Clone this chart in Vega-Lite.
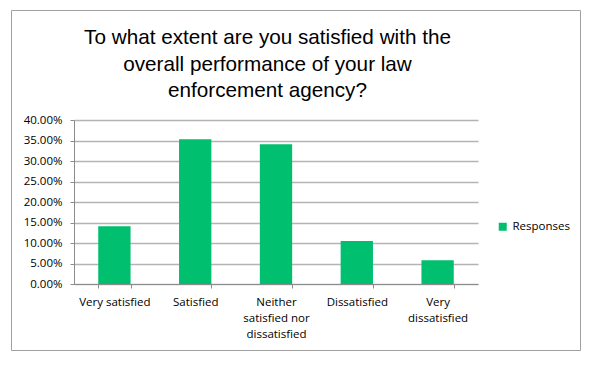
{
  "$schema": "https://vega.github.io/schema/vega-lite/v6.json",
  "width": 569,
  "height": 340,
  "autosize": {"type": "none"},
  "padding": {"left": 11, "top": 10, "right": 15, "bottom": 16},
  "background": "white",
  "title": {
    "text": ["To what extent are you satisfied with the", "overall performance of your law", "enforcement agency?"],
    "font": "Liberation Sans",
    "fontSize": 20.7,
    "fontWeight": "normal",
    "color": "#000000",
    "lineHeight": 26.5,
    "anchor": "middle",
    "frame": "group",
    "offset": -92,
    "dx": -28
  },
  "data": {
    "values": [
      {"rating": "Very satisfied", "share": 0.141},
      {"rating": "Satisfied", "share": 0.353},
      {"rating": "Neither satisfied nor dissatisfied", "share": 0.341},
      {"rating": "Dissatisfied", "share": 0.105},
      {"rating": "Very dissatisfied", "share": 0.058}
    ]
  },
  "mark": {"type": "bar"},
  "encoding": {
    "x": {
      "field": "rating",
      "type": "nominal",
      "sort": null,
      "scale": {"range": [63, 467], "paddingInner": 0.6, "paddingOuter": 0.3},
      "axis": {
        "title": null,
        "offset": -66,
        "labelAngle": 0,
        "domainColor": "#8C8C8C",
        "tickColor": "#8C8C8C",
        "tickSize": 4,
        "tickBand": "extent",
        "labelPadding": 8,
        "labelFont": "Open Sans",
        "labelFontSize": 11.5,
        "labelColor": "#000000",
        "labelLineHeight": 16,
        "labelExpr": "datum.label == 'Neither satisfied nor dissatisfied' ? ['Neither', 'satisfied nor', 'dissatisfied'] : datum.label == 'Very dissatisfied' ? ['Very', 'dissatisfied'] : datum.label"
      }
    },
    "y": {
      "field": "share",
      "type": "quantitative",
      "scale": {"domain": [0, 0.4], "range": [274, 110]},
      "axis": {
        "title": null,
        "offset": -63,
        "values": [0, 0.05, 0.1, 0.15, 0.2, 0.25, 0.3, 0.35, 0.4],
        "format": ".2%",
        "grid": true,
        "gridColor": "#B4B4B4",
        "gridWidth": 1.3,
        "domainColor": "#8C8C8C",
        "tickColor": "#8C8C8C",
        "tickSize": 4,
        "labelPadding": 8,
        "labelFont": "Open Sans",
        "labelFontSize": 11.5,
        "labelColor": "#000000"
      }
    },
    "color": {
      "datum": "Responses",
      "scale": {"range": ["#00BF6F"]},
      "legend": {
        "title": null,
        "orient": "none",
        "legendX": 486,
        "legendY": 211,
        "symbolType": "square",
        "symbolSize": 64,
        "symbolStrokeWidth": 0,
        "labelFont": "Open Sans",
        "labelFontSize": 11.5,
        "labelColor": "#000000",
        "padding": 0
      }
    }
  },
  "config": {"view": {"stroke": "#A0A0A0", "strokeWidth": 1}}
}
